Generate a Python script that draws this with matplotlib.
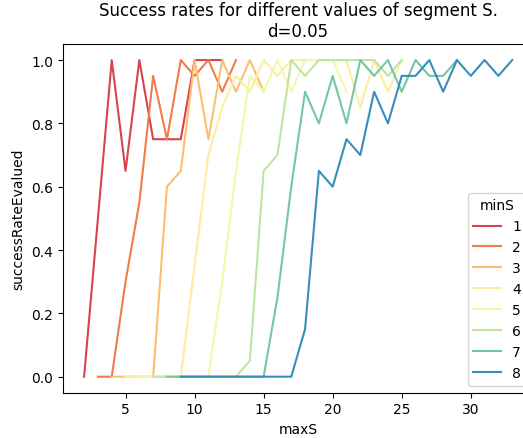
import matplotlib
matplotlib.use("Agg")
import matplotlib.pyplot as plt
import seaborn as sns

# success rates per minS, maxS runs from minS+1 upward
min_s = [1, 2, 3, 4, 5, 6, 7, 8]
rates = {
    1: [0, 0.5, 1.0, 0.65, 1.0, 0.75, 0.75, 0.75, 1.0, 1.0, 1.0],
    2: [0, 0, 0.3, 0.55, 0.95, 0.75, 1.0, 0.95, 1.0, 0.9, 1.0],
    3: [0, 0, 0, 0, 0.6, 0.65, 1.0, 0.75, 1.0, 0.9, 1.0, 0.9],
    4: [0, 0, 0, 0, 0, 0.35, 0.7, 0.85, 0.95, 0.9, 1.0, 0.95, 1.0, 1.0, 1.0,
        1.0, 1.0, 0.85, 1.0, 0.9, 1.0],
    5: [0, 0, 0, 0, 0, 0, 0.3, 0.65, 0.95, 0.9, 1.0, 0.9, 1.0, 1.0, 1.0, 0.9],
    6: [0, 0, 0, 0, 0, 0, 0, 0.05, 0.65, 0.7, 1.0, 0.95, 1.0, 1.0, 1.0, 1.0,
        1.0, 0.95, 1.0],
    7: [0, 0, 0, 0, 0, 0, 0, 0, 0.25, 0.6, 0.9, 0.8, 0.95, 0.8, 1.0, 0.95,
        1.0, 0.9, 1.0, 0.95, 0.95, 1.0],
    8: [0, 0, 0, 0, 0, 0, 0, 0, 0, 0.15, 0.65, 0.6, 0.75, 0.7, 0.9, 0.8,
        0.95, 0.95, 1.0, 0.9, 1.0, 0.95, 1.0, 0.95, 1.0],
}

colors = sns.color_palette("Spectral", len(min_s))

fig = plt.figure(figsize=(5.23, 4.39), dpi=100)
ax = fig.add_axes([0.1199, 0.1036, 0.9004, 0.7934])

for m, c in zip(min_s, colors):
    ys = rates[m]
    xs = list(range(m + 1, m + 1 + len(ys)))
    ax.plot(xs, ys, color=c, lw=1.5, label=str(m))

ax.set_xlabel("maxS")
ax.set_ylabel("successRateEvalued")
ax.set_title("Success rates for different values of segment S.\nd=0.05")
ax.legend(title="minS", loc="lower right")

fig.savefig("out.png", dpi=100)
